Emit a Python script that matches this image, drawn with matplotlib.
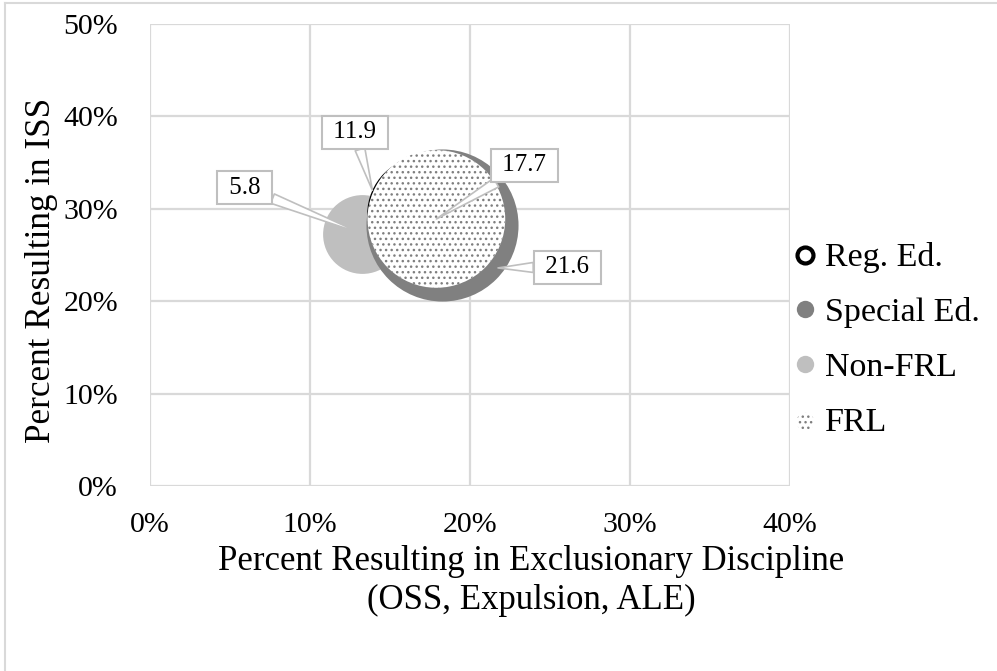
import matplotlib
matplotlib.use("Agg")
import matplotlib.pyplot as plt
from matplotlib.lines import Line2D
from matplotlib.ticker import FuncFormatter

plt.rcParams['font.family'] = ['Liberation Serif', 'DejaVu Serif']
plt.rcParams['hatch.linewidth'] = 1.0
plt.rcParams['hatch.color'] = '#7f7f7f'

series = ["Reg. Ed.", "Special Ed.", "Non-FRL", "FRL"]
x_vals = [17.2, 18.25, 13.25, 17.9]     # % exclusionary discipline
y_vals = [29.42, 28.2, 27.3, 28.9]      # % ISS
sizes = [11.9, 21.6, 5.8, 17.7]         # bubble size values
label_text = ["11.9", "21.6", "5.8", "17.7"]

x_ticks = [0, 10, 20, 30, 40]
y_ticks = [0, 10, 20, 30, 40, 50]

fig = plt.figure(figsize=(9.97, 6.71), dpi=100)
ax = fig.add_axes([150/997, 1-486/671, 640/997, 462/671])

scale = 555.0
styles = {
    "Reg. Ed.": dict(facecolors='none', edgecolors='black', linewidths=2.2),
    "Special Ed.": dict(color='#808080', linewidths=0),
    "Non-FRL": dict(color='#bfbfbf', linewidths=0),
    "FRL": dict(facecolors='white', edgecolors='#7f7f7f', linewidths=0, hatch='...'),
}
handles = {}
order = [2, 0, 1, 3]
for z, i in enumerate(order):
    handles[series[i]] = ax.scatter([x_vals[i]], [y_vals[i]], s=sizes[i]*scale,
                                    zorder=2+z, **styles[series[i]])

ax.set_xlim(0, 40)
ax.set_ylim(0, 50)
ax.set_xticks(x_ticks)
ax.set_yticks(y_ticks)
fmt = FuncFormatter(lambda v, p: f"{int(v)}%")
ax.xaxis.set_major_formatter(fmt)
ax.yaxis.set_major_formatter(fmt)
ax.grid(True, color='#d9d9d9', linewidth=1.6)
ax.set_axisbelow(True)
for sp in ax.spines.values():
    sp.set_visible(False)
ax.tick_params(length=0, labelsize=21.5)
ax.tick_params(axis='x', pad=19)
ax.tick_params(axis='y', pad=23)

# callouts
label_pos = {
    "Reg. Ed.": ((12.8, 38.3), (13.9, 32.0)),
    "Special Ed.": ((26.1, 23.7), (21.75, 23.6)),
    "Non-FRL": ((5.9, 32.3), None),
    "FRL": ((23.4, 34.7), None),
}
for i, name in enumerate(series):
    txy, pxy = label_pos[name]
    if pxy is None:
        pxy = (x_vals[i], y_vals[i])
    ax.annotate(" " + label_text[i] + " ", xy=pxy, xytext=txy, textcoords='data',
                ha='center', va='center', fontsize=18, zorder=10,
                bbox=dict(boxstyle='square,pad=0.22', fc='white', ec='#bfbfbf', lw=1.5),
                arrowprops=dict(arrowstyle='wedge,tail_width=0.4', fc='white',
                                ec='#bfbfbf', lw=1.2, shrinkA=0, shrinkB=0))

# axis titles
fig.text(42/997, 1-270/671, "Percent Resulting in ISS", rotation=90,
         ha='center', va='center', fontsize=25.4)
fig.text(531/997, 1-581/671, "Percent Resulting in Exclusionary Discipline\n(OSS, Expulsion, ALE)",
         ha='center', va='center', fontsize=25, linespacing=1.25)

# legend
leg_handles = [
    Line2D([], [], marker='o', linestyle='none', markersize=11.5, markerfacecolor='white',
           markeredgecolor='black', markeredgewidth=3),
    Line2D([], [], marker='o', linestyle='none', markersize=12.5, markerfacecolor='#808080',
           markeredgewidth=0),
    Line2D([], [], marker='o', linestyle='none', markersize=12.5, markerfacecolor='#bfbfbf',
           markeredgewidth=0),
    handles["FRL"],
]
leg = fig.legend(leg_handles, series, loc='center left', bbox_to_anchor=(796/997, 1-340/671),
                 frameon=False, fontsize=24.5, handlelength=0.55, handletextpad=0.3,
                 labelspacing=0.7, borderaxespad=0, borderpad=0, markerscale=1,
                 scatterpoints=1)
for h in leg.legend_handles:
    if hasattr(h, 'set_sizes'):
        h.set_sizes([160])

# chart area border (clipped)
fig.add_artist(Line2D([5/997, 5/997], [0, 1-3/671], color='#d9d9d9', lw=1.5))
fig.add_artist(Line2D([5/997, 1], [1-3/671, 1-3/671], color='#d9d9d9', lw=1.5))

fig.savefig("out.png", dpi=100, facecolor='white')
